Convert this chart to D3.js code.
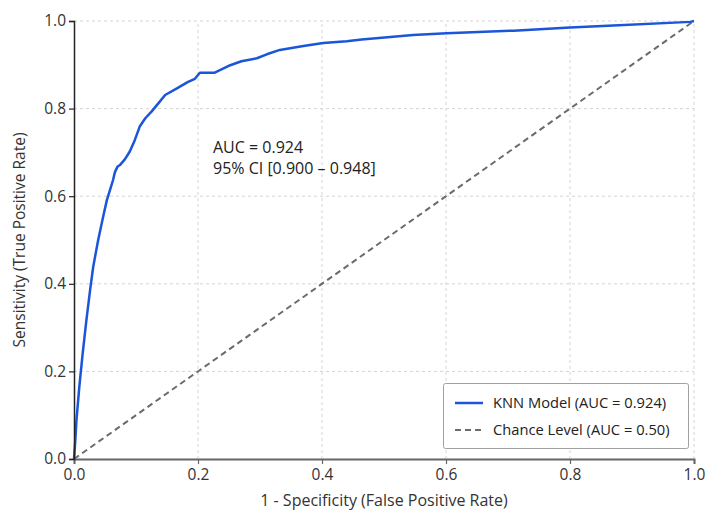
<!DOCTYPE html>
<html><head><meta charset="utf-8">
<script src="https://cdn.jsdelivr.net/npm/d3@7"></script>
<style>
html,body{margin:0;padding:0;background:#fff;}
svg{display:block;}
</style></head>
<body>
<svg id="chart" width="706" height="512"></svg>
<script>
const fpr = [0,0.002,0.004,0.0086,0.014,0.020,0.026,0.031,0.039,0.047,0.053,0.058,0.063,0.066,0.070,0.074,0.082,0.090,0.098,0.106,0.115,0.125,0.136,0.147,0.166,0.184,0.195,0.203,0.227,0.252,0.270,0.295,0.311,0.332,0.370,0.402,0.440,0.464,0.547,0.601,0.709,0.800,0.870,0.994,1];
const tpr = [0,0.04,0.089,0.165,0.241,0.317,0.386,0.439,0.500,0.553,0.591,0.614,0.637,0.655,0.667,0.671,0.684,0.702,0.728,0.759,0.778,0.793,0.812,0.831,0.846,0.861,0.868,0.882,0.882,0.899,0.908,0.915,0.924,0.934,0.943,0.950,0.954,0.958,0.968,0.972,0.978,0.985,0.990,0.998,1];
const chanceX = [0,1];
const chanceY = [0,1];
const tickValues = [0,0.2,0.4,0.6,0.8,1.0];
const legendLabels = ["KNN Model (AUC = 0.924)","Chance Level (AUC = 0.50)"];
const annotation = ["AUC = 0.924","95% CI [0.900 \u2013 0.948]"];

const svg = d3.select("#chart");
const m = {left:74, right:12, top:21, bottom:53};
const W = 706, H = 512;
const x = d3.scaleLinear().domain([0,1]).range([m.left, W - m.right]);
const y = d3.scaleLinear().domain([0,1]).range([H - m.bottom, m.top]);
const font = "'Open Sans', 'Noto Sans', sans-serif";

// grid
const grid = svg.append("g");
grid.selectAll("line.v").data(tickValues.slice(1)).join("line")
  .attr("x1", d=>x(d)).attr("x2", d=>x(d)).attr("y1", y(0)).attr("y2", y(1))
  .attr("stroke","#d4d4d4").attr("stroke-width",1).attr("stroke-dasharray","3,3");
grid.selectAll("line.h").data(tickValues.slice(1)).join("line")
  .attr("y1", d=>y(d)).attr("y2", d=>y(d)).attr("x1", x(0)).attr("x2", x(1))
  .attr("stroke","#d4d4d4").attr("stroke-width",1).attr("stroke-dasharray","3,3");

// chance line
svg.append("path")
  .datum(chanceX.map((d,i)=>[d, chanceY[i]]))
  .attr("d", d3.line().x(d=>x(d[0])).y(d=>y(d[1])))
  .attr("fill","none").attr("stroke","#6b6b6b").attr("stroke-width",2)
  .attr("stroke-dasharray","6,4");

// ROC curve
svg.append("path")
  .datum(fpr.map((d,i)=>[d, tpr[i]]))
  .attr("d", d3.line().x(d=>x(d[0])).y(d=>y(d[1])))
  .attr("fill","none").attr("stroke","#1a55da").attr("stroke-width",2.5)
  .attr("stroke-linejoin","round");

// axes
const fmt = d3.format(".1f");
const xAxis = svg.append("g").attr("transform",`translate(0,${y(0)})`)
  .call(d3.axisBottom(x).tickValues(tickValues).tickFormat(fmt).tickSizeOuter(0).tickSize(5).tickPadding(5));
xAxis.select(".domain").attr("stroke","#666").attr("stroke-width",2);
xAxis.selectAll(".tick line").attr("stroke","#666").attr("stroke-width",1.2);
xAxis.selectAll("text").attr("font-family",font).attr("font-size",15.5).attr("fill","#333");

const yAxis = svg.append("g").attr("transform",`translate(${x(0)},0)`)
  .call(d3.axisLeft(y).tickValues(tickValues).tickFormat(fmt).tickSizeOuter(0).tickSize(5).tickPadding(3));
yAxis.select(".domain").attr("stroke","#222").attr("stroke-width",1.5);
yAxis.selectAll(".tick line").attr("stroke","#222").attr("stroke-width",1.2);
yAxis.selectAll("text").attr("font-family",font).attr("font-size",15.5).attr("fill","#333");

// axis labels
svg.append("text").attr("x", (x(0)+x(1))/2).attr("y", 506)
  .attr("text-anchor","middle").attr("font-family",font).attr("font-size",16).attr("fill","#333")
  .text("1 - Specificity (False Positive Rate)");
svg.append("text").attr("transform",`translate(25,${(y(0)+y(1))/2}) rotate(-90)`)
  .attr("text-anchor","middle").attr("font-family",font).attr("font-size",15.5).attr("fill","#333")
  .text("Sensitivity (True Positive Rate)");

// annotation
const ann = svg.append("text").attr("font-family",font).attr("font-size",16).attr("fill","#222");
annotation.forEach((t,i)=>{
  ann.append("tspan").attr("x",213).attr("y",153 + i*21).text(t);
});

// legend
const lg = svg.append("g");
lg.append("rect").attr("x",443.5).attr("y",383.5).attr("width",245).attr("height",65).attr("rx",2)
  .attr("fill","#fff").attr("stroke","#a0a0a0").attr("stroke-width",1);
const lstyles = [{c:"#1a55da", d:null, w:2.5},{c:"#6b6b6b", d:"6,4", w:2}];
legendLabels.forEach((t,i)=>{
  const yy = 403 + i*27;
  lg.append("line").attr("x1",455).attr("x2",483).attr("y1",yy).attr("y2",yy)
    .attr("stroke",lstyles[i].c).attr("stroke-width",lstyles[i].w)
    .attr("stroke-dasharray",lstyles[i].d);
  lg.append("text").attr("x",493).attr("y",yy+5).attr("font-family",font)
    .attr("font-size",14.7).attr("fill","#222").text(t);
});
</script>
</body></html>
